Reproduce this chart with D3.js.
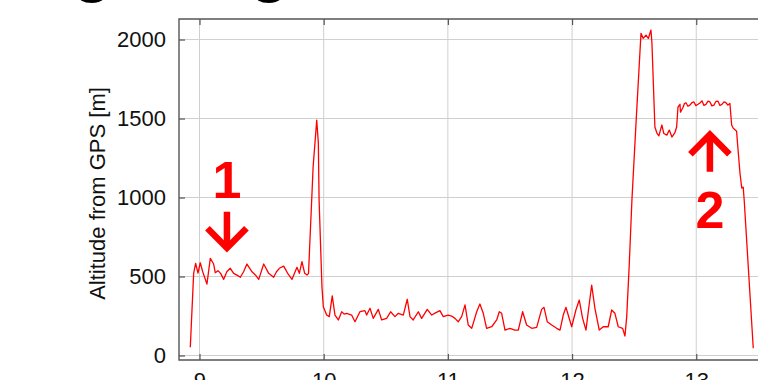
<!DOCTYPE html>
<html>
<head>
<meta charset="utf-8">
<script src="https://cdn.jsdelivr.net/npm/d3@7"></script>
<style>
  html, body { margin: 0; padding: 0; background: #fff; }
  svg { display: block; font-family: "Liberation Sans", Arial, Helvetica, sans-serif; }
</style>
</head>
<body>
<svg id="chart" width="758" height="380"></svg>
<script>
// Time of day [h] and GPS altitude [m] along the track
const hours = [
  8.926, 8.953, 8.969, 8.988, 9.006, 9.026, 9.060, 9.087, 9.114, 9.127,
  9.149, 9.170, 9.195, 9.220, 9.248, 9.275, 9.302, 9.329, 9.355, 9.382,
  9.423, 9.450, 9.477, 9.517, 9.557, 9.597, 9.620, 9.643, 9.678, 9.713,
  9.745, 9.785, 9.804, 9.825, 9.847, 9.866, 9.878, 9.915, 9.944, 9.957,
  9.963, 9.986, 9.997, 10.024, 10.045, 10.069, 10.091, 10.118, 10.145, 10.165,
  10.185, 10.225, 10.252, 10.292, 10.332, 10.346, 10.373, 10.399, 10.440, 10.467,
  10.507, 10.539, 10.574, 10.601, 10.641, 10.673, 10.695, 10.721, 10.762, 10.789,
  10.834, 10.870, 10.900, 10.936, 10.963, 11.003, 11.030, 11.057, 11.084, 11.111,
  11.138, 11.164, 11.192, 11.232, 11.258, 11.285, 11.312, 11.353, 11.393, 11.414,
  11.433, 11.460, 11.500, 11.540, 11.567, 11.602, 11.634, 11.675, 11.715, 11.755,
  11.774, 11.800, 11.836, 11.876, 11.903, 11.929, 11.951, 11.969, 11.997, 12.031,
  12.058, 12.085, 12.112, 12.134, 12.158, 12.184, 12.219, 12.251, 12.291, 12.319,
  12.345, 12.372, 12.407, 12.426, 12.440, 12.461, 12.482, 12.518, 12.555, 12.573,
  12.595, 12.614, 12.635, 12.643, 12.667, 12.683, 12.699, 12.723, 12.739, 12.763,
  12.783, 12.804, 12.828, 12.842, 12.853, 12.869, 12.873, 12.893, 12.905, 12.917,
  12.933, 12.949, 12.965, 12.981, 12.997, 13.014, 13.030, 13.046, 13.062, 13.078,
  13.094, 13.110, 13.126, 13.142, 13.158, 13.175, 13.191, 13.207, 13.223, 13.239,
  13.255, 13.271, 13.285, 13.298, 13.325, 13.332, 13.352, 13.366, 13.378, 13.386,
  13.459
];
const altitude = [
  52, 520, 583, 522, 587, 530, 452, 615, 579, 524,
  537, 520, 482, 530, 552, 520, 509, 495, 530, 579,
  530, 510, 482, 579, 520, 495, 530, 552, 566, 516,
  482, 558, 520, 594, 520, 509, 520, 1195, 1490, 1345,
  984, 435, 309, 256, 246, 377, 256, 225, 277, 262,
  267, 256, 214, 277, 284, 256, 299, 235, 292, 225,
  235, 277, 246, 267, 256, 356, 246, 225, 277, 235,
  292, 256, 270, 284, 246, 256, 250, 235, 214, 246,
  320, 193, 172, 277, 326, 267, 172, 182, 225, 277,
  267, 161, 172, 161, 161, 277, 193, 172, 178, 292,
  305, 214, 193, 172, 161, 256, 305, 256, 182, 288,
  351, 235, 161, 299, 446, 299, 161, 182, 182, 288,
  267, 182, 172, 123, 246, 584, 984, 1515, 2039, 2007,
  2028, 2007, 2060, 1980, 1446, 1408, 1390, 1459, 1405, 1395,
  1427, 1383, 1410, 1446, 1573, 1590, 1540, 1570, 1595, 1600,
  1578, 1585, 1600, 1605, 1582, 1590, 1598, 1612, 1583, 1590,
  1610, 1605, 1580, 1585, 1608, 1610, 1582, 1590, 1605, 1600,
  1585, 1595, 1459, 1438, 1420, 1345, 1155, 1060, 1066, 984,
  46
];

const xTicks = [9, 10, 11, 12, 13];
const yTicks = [0, 500, 1000, 1500, 2000];
const yLabel = "Altitude from GPS [m]";
const title = "Flight log";

// Numbered markers: arrow from tail to tip, label beyond the tail
const markerLabels = ["1", "2"];
const markerHours = [9.221, 13.110];
const markerTipAlt = [647, 1432];
const markerTailAlt = [910, 1163];
const markerLabelAlt = [997, 805];

const W = 758, H = 380;
const plot = { left: 179, top: 19, bottom: 360, right: 789.4 };

const svg = d3.select("#chart");
svg.append("rect").attr("width", W).attr("height", H).attr("fill", "#fff");

const x = d3.scaleLinear().domain([8.835, 13.75]).range([plot.left, plot.right]);
const y = d3.scaleLinear().domain([-28.5, 2130]).range([plot.bottom, plot.top]);

// Title (mostly above the visible area)
svg.append("text")
  .attr("x", -3).attr("y", -10)
  .attr("font-size", 65).attr("font-weight", "bold")
  .attr("fill", "#000")
  .text(title);

svg.append("defs").append("clipPath").attr("id", "plotClip")
  .append("rect")
  .attr("x", plot.left).attr("y", plot.top)
  .attr("width", plot.right - plot.left).attr("height", plot.bottom - plot.top);

// Grid
const grid = svg.append("g").attr("stroke", "#cfcfcf").attr("stroke-width", 1);
grid.selectAll("line.gx").data(xTicks).join("line")
  .attr("x1", d => x(d)).attr("x2", d => x(d))
  .attr("y1", plot.top).attr("y2", plot.bottom);
grid.selectAll("line.gy").data(yTicks).join("line")
  .attr("x1", plot.left).attr("x2", plot.right)
  .attr("y1", d => y(d)).attr("y2", d => y(d));

// Axes with inward ticks
const tickColor = "#555";
function styleAxis(g) {
  g.select(".domain").remove();
  g.selectAll(".tick line").attr("stroke", tickColor).attr("stroke-width", 1.2);
  g.selectAll(".tick text").attr("fill", "#111").attr("font-size", 22)
    .attr("font-family", "'Liberation Sans', Arial, Helvetica, sans-serif");
}
svg.append("g").attr("transform", `translate(${plot.left},0)`)
  .call(d3.axisLeft(y).tickValues(yTicks).tickFormat(d3.format("d")).tickSizeInner(-6).tickSizeOuter(0).tickPadding(13))
  .call(styleAxis);
svg.append("g").attr("transform", `translate(0,${plot.bottom})`)
  .call(d3.axisBottom(x).tickValues(xTicks).tickFormat(d3.format("d")).tickSizeInner(-6).tickSizeOuter(0).tickPadding(12))
  .call(styleAxis);
svg.append("g").attr("transform", `translate(0,${plot.top})`)
  .call(d3.axisTop(x).tickValues(xTicks).tickFormat("").tickSizeInner(-6).tickSizeOuter(0))
  .call(styleAxis);

// Frame
const frame = svg.append("g").attr("stroke", "#555").attr("stroke-width", 1.4).attr("fill", "none");
frame.append("path")
  .attr("d", `M${plot.right},${plot.top}H${plot.left}V${plot.bottom}H${plot.right}`);

// Y axis title
svg.append("text")
  .attr("transform", `translate(105,${(plot.top + plot.bottom) / 2 + 4}) rotate(-90)`)
  .attr("text-anchor", "middle")
  .attr("font-size", 22).attr("fill", "#111")
  .text(yLabel);

// Altitude trace
const track = hours.map((t, i) => ({ t, a: altitude[i] }));
svg.append("path")
  .datum(track)
  .attr("clip-path", "url(#plotClip)")
  .attr("fill", "none")
  .attr("stroke", "#ff0000")
  .attr("stroke-width", 1.3)
  .attr("stroke-linejoin", "round")
  .attr("d", d3.line().x(d => x(d.t)).y(d => y(d.a)));

// Markers
const arrowWidth = 6.5, headHalf = 19.5, headLen = 25;
const miter = (arrowWidth / 2) / Math.sin(Math.atan(headHalf / headLen));
markerLabels.forEach((lab, i) => {
  const cx = x(markerHours[i]);
  const tipVis = y(markerTipAlt[i]);
  const tail = y(markerTailAlt[i]);
  const dir = Math.sign(tipVis - tail);           // +1 pointing down, -1 pointing up
  const tip = tipVis - dir * miter;
  const g = svg.append("g").attr("stroke", "#ff0000").attr("fill", "none")
    .attr("stroke-width", arrowWidth).attr("stroke-linejoin", "miter").attr("stroke-miterlimit", 10);
  g.append("line").attr("x1", cx).attr("x2", cx).attr("y1", tail).attr("y2", tip);
  g.append("path").attr("d",
    `M${cx - headHalf},${tipVis - dir * headLen}L${cx},${tip}L${cx + headHalf},${tipVis - dir * headLen}`);
  svg.append("text")
    .attr("x", cx).attr("y", y(markerLabelAlt[i]))
    .attr("text-anchor", "middle")
    .attr("font-size", 52).attr("font-weight", "bold")
    .attr("fill", "#ff0000")
    .text(lab);
});
</script>
</body>
</html>
